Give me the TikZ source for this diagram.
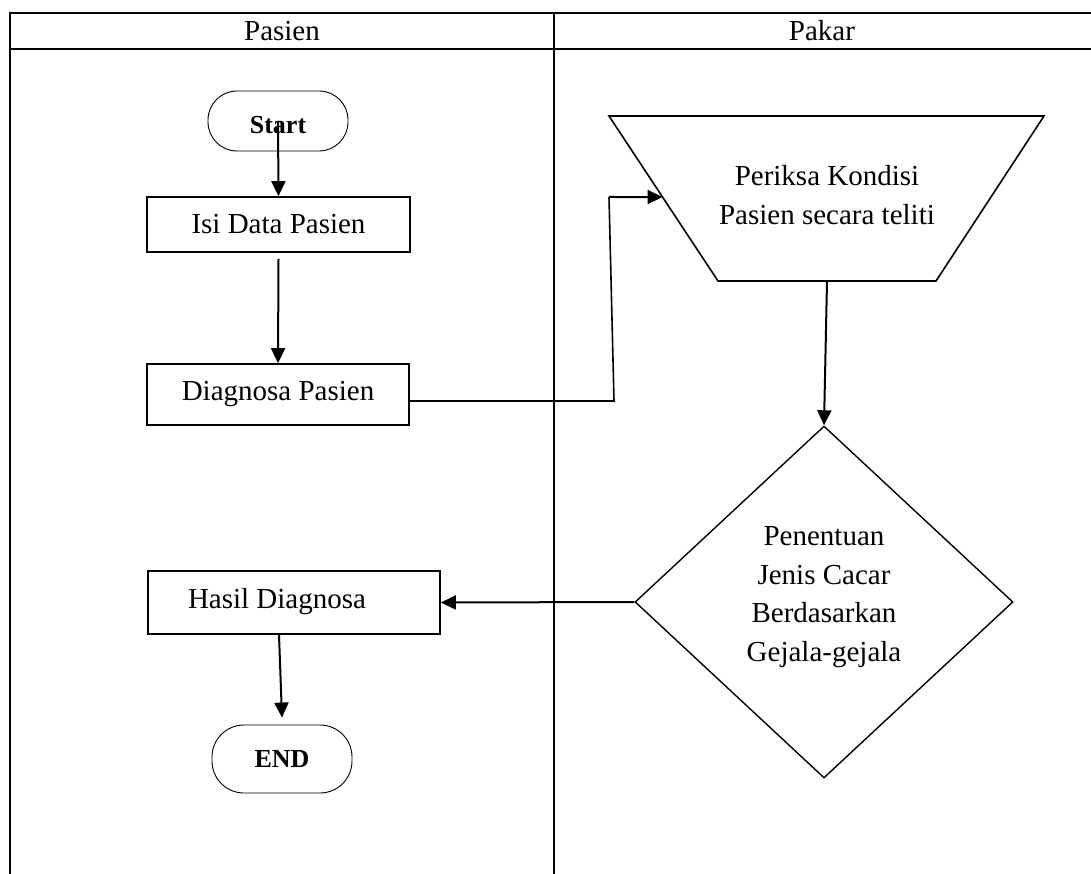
\documentclass[tikz,border=0pt]{standalone}
\usepackage{fontspec}
\setmainfont{Liberation Serif}
\usetikzlibrary{arrows.meta,shapes.geometric,calc}
\begin{document}
\begin{tikzpicture}[x=1pt,y=-1pt,
  every node/.style={font=\fontsize{29}{38.5}\selectfont},
  gridline/.style={line width=2pt},
  procbox/.style={draw,line width=1.6pt,inner sep=0pt,minimum width=#1},
  term/.style={draw,line width=0.9pt,inner sep=0pt,minimum width=140pt,font=\fontsize{26}{30}\selectfont\bfseries},
  shapeline/.style={line width=1.6pt},
  arr/.style={line width=2pt,-{Triangle[length=15pt,width=14pt]}},
  link/.style={line width=1.6pt},
  txt/.style={inner sep=0pt,align=center}
]
\useasboundingbox (0,0) rectangle (1091,874);
% swimlane table
\draw[gridline] (10,874) -- (10,13) -- (1091,13);
\draw[gridline] (10,49) -- (1091,49);
\draw[gridline] (554,13) -- (554,874);
\node[txt] (hpasien) at (282,31) {Pasien};
\node[txt] (hpakar) at (822,31) {Pakar};

% Pasien lane
\node[term,minimum height=60pt,rounded corners=29pt] (start) at (278,121) {};
\node[txt,font=\fontsize{26}{30}\selectfont\bfseries] (starttext) at (278,125) {Start};
\node[procbox=263pt,minimum height=55pt] (isi) at (278.5,224.5) {Isi Data Pasien};
\node[procbox=262pt,minimum height=61pt] (diag) at (278,394.5) {Diagnosa Pasien};
\node[procbox=292pt,minimum height=63pt] (hasil) at (294,602.5) {};
\node[txt] (hasiltext) at (277,602) {Hasil Diagnosa};
\node[term,minimum height=68pt,rounded corners=32pt] (end) at (282,759) {END};

% Pakar lane: trapezoid
\coordinate (trTL) at (609,116);
\coordinate (trTR) at (1044,116);
\coordinate (trBR) at (936,281);
\coordinate (trBL) at (718,281);
\draw[shapeline] (trTL) -- (trTR) -- (trBR) -- (trBL) -- cycle;
\node[txt] (periksa) at (827,195) {Periksa Kondisi\\Pasien secara teliti};
\coordinate (trIn) at ($(trTL)!0.491!(trBL)$);
\coordinate (trOut) at (827,281);

% diamond
\node[draw,shape=diamond,line width=1.4pt,inner sep=0pt,aspect=1.074,minimum width=378pt,minimum height=352pt] (dec) at (824,602) {};
\node[txt] (dectext) at (824,597) {Penentuan\\Jenis Cacar\\Berdasarkan\\Gejala-gejala};

% connectors
\draw[arr] (start.center) -- (isi.north);
\draw[arr] ([yshift=-6pt]isi.south) -- (diag.north);
\coordinate (b1) at (614,401);
\coordinate (b2) at (609,197);
\draw[link] ([yshift=-6.5pt]diag.east) -- (b1) -- (b2);
\draw[arr] (b2) -- (trIn);
\draw[arr] (trOut) -- (dec.north);
\draw[arr] (dec.west) -- (hasil.east);
\draw[arr] ([xshift=-15pt]hasil.south) -- ([yshift=7pt]end.north);
\end{tikzpicture}
\end{document}
